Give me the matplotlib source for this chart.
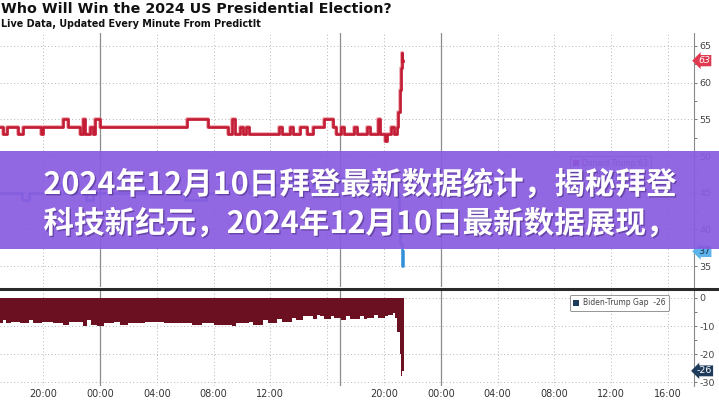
import matplotlib
matplotlib.use('Agg')
import matplotlib.pyplot as plt
from matplotlib.patches import Rectangle, Patch
from matplotlib.lines import Line2D
import matplotlib.patheffects as pe

plt.rcParams['axes.unicode_minus'] = False

# ---------------- data ----------------
title = "Who Will Win the 2024 US Presidential Election?"
subtitle = "Live Data, Updated Every Minute From PredictIt"
banner_lines = ["2024年12月10日拜登最新数据统计，揭秘拜登",
                "科技新纪元，2024年12月10日最新数据展现，"]

# time in hours relative to the first midnight
trump_t = [-7.04, -6.83, -6.55, -5.77, -5.42, -4.15, -4.01, -2.61, -2.25, -1.41, -1.2, -1.06,
           -0.7, -0.5, -0.35, 0.0, 6.13, 7.61, 9.01, 9.3, 9.51, 9.86, 10.07, 10.28, 10.49,
           12.6, 12.8, 13.4, 13.6, 14.1, 14.6, 15.0, 15.8, 16.4, 16.6, 17.0, 17.2, 17.9,
           18.1, 18.8, 19.0, 19.6, 19.7, 20.1, 20.2, 20.5, 20.7, 20.9, 21.0, 21.1, 21.2,
           21.25, 21.3, 21.34]
trump_v = [54, 53, 54, 53, 54, 53, 54, 55, 54, 53, 55, 53,
           54, 53, 55, 54, 55, 54, 53, 55, 53, 54, 53, 54, 53,
           54, 53, 54, 53, 54, 53, 54, 55, 54, 53, 54, 53, 54,
           53, 54, 53, 55, 53, 52, 53, 54, 53, 54, 56, 59, 62,
           64, 63, 63]

biden_t = [-7.04, -5.5, -5.0, -3.0, -2.5, -1.0, -0.5, 6.0, 7.5, 9.0, 10.5, 12.0, 13.5,
           15.0, 16.5, 18.0, 19.5, 20.5, 20.9, 21.05, 21.15, 21.25, 21.34]
biden_v = [45, 44, 45, 46, 45, 44, 45, 44, 45, 46, 45, 46, 47,
           46, 47, 46, 47, 46, 45, 41, 38, 35, 37]

gap_t = [-7.04, -6.8, -6.6, -6.3, -5.6, -5.0, -4.7, -4.1, -3.3, -2.6, -2.2, -1.5, -1.2,
         -0.9, -0.6, -0.2, 0.3, 1.0, 1.4, 2.0, 3.2, 4.5, 6.5, 7.2, 8.0, 9.3, 9.6, 10.5,
         10.8, 11.0, 11.5, 11.8, 12.0, 12.5, 12.8, 13.0, 13.5, 13.8, 14.0, 14.3, 14.5,
         15.0, 15.3, 15.5, 15.8, 16.0, 16.3, 16.5, 17.0, 17.3, 17.6, 17.8, 18.3, 18.6,
         18.8, 19.3, 19.6, 19.8, 20.1, 20.3, 20.6, 20.8, 20.95, 21.1, 21.2, 21.3, 21.4]
gap_v = [-9, -8, -9, -8.5, -9, -8, -9, -8.5, -9, -9.5, -8.5, -8.5, -10,
         -8, -9.5, -10, -9, -8.5, -9.5, -9, -8.5, -9, -9.5, -9, -9.5, -10, -9, -8.5,
         -9.5, -9.5, -8, -9, -9, -7.5, -8.5, -8.5, -7, -8, -8, -6.5, -6.5,
         -7.5, -6, -6.5, -7.5, -7.5, -6.5, -7, -8, -6.5, -7.5, -7.5, -6.5, -7.5,
         -7, -6, -7, -7, -6.5, -6, -5.5, -7, -12, -20, -28, -26, -26]

xtick_hours = [-4, 0, 4, 8, 12, 16, 20, 24, 28, 32, 36, 40]
xtick_labels = ['20:00', '00:00', '04:00', '08:00', '12:00', '', '20:00',
                '00:00', '04:00', '08:00', '12:00', '16:00']
day_breaks = [0, 24, 16.9]
top_yticks = [35, 40, 45, 50, 55, 60, 65]
top_minor = [37.5, 42.5, 47.5, 52.5, 57.5, 62.5]
gap_yticks = [0, -10, -20, -30]
gap_minor = [-5, -15, -25]
trump_last, biden_last, gap_last = 63, 37, -26

# ---------------- figure ----------------
W, H = 719, 400
fig = plt.figure(figsize=(W / 100, H / 100), dpi=100)
fig.patch.set_facecolor('white')

xlim = (-7.04, 41.83)
grid_kw = dict(color='#b5b5b5', lw=0.7, linestyle=(0, (1, 2.5)))

ax1 = fig.add_axes([0, 1 - 287 / H, 694 / W, 254 / H])
ax2 = fig.add_axes([0, 1 - 386 / H, 694 / W, 97 / H])

for ax in (ax1, ax2):
    ax.set_xlim(*xlim)
    for s in ('left', 'top', 'bottom'):
        ax.spines[s].set_visible(False)
    ax.spines['right'].set_color('#8a8a8a')
    ax.spines['right'].set_linewidth(0.8)
    ax.yaxis.tick_right()
    ax.tick_params(axis='y', which='both', direction='out', length=2.5, width=0.7,
                   color='#777', labelsize=6.8, labelcolor='#444', pad=1.2)
    ax.tick_params(axis='y', which='minor', length=2)
    ax.set_xticks(xtick_hours)
    for h in xtick_hours:
        if h not in day_breaks:
            ax.axvline(h, zorder=0, **grid_kw)
    for h in day_breaks:
        ax.axvline(h, color='#8c8c8c', lw=0.9, zorder=0)

# top panel
ax1.set_ylim(32.14, 66.77)
ax1.set_yticks(top_yticks)
ax1.set_yticks(top_minor, minor=True)
for v in top_yticks:
    ax1.axhline(v, zorder=0, **grid_kw)
ax1.tick_params(axis='x', length=0, labelbottom=False)
ax1.step(biden_t, biden_v, where='post', color='#2f8fd8', lw=1.8, zorder=3)
ax1.step(trump_t, trump_v, where='post', color='#c21d35', lw=1.9, zorder=4,
         path_effects=[pe.Stroke(linewidth=2.7, foreground='#e9707e', alpha=0.6), pe.Normal()])

leg1 = ax1.legend(handles=[Patch(fc='#a0307a', ec='none', label=f'Donald Trump {trump_last}'),
                           Patch(fc='#2f8fd8', ec='none', label=f'Joe Biden {biden_last}')],
                  loc='upper left', bbox_to_anchor=(566 / 694, (287 - 152) / 254),
                  fontsize=5.5, handlelength=0.8, handleheight=0.8, handletextpad=0.4,
                  borderpad=0.4, labelspacing=0.3, frameon=True, fancybox=True)
leg1.get_frame().set_edgecolor('#555')
leg1.get_frame().set_linewidth(0.6)
for t in leg1.get_texts():
    t.set_color('#444')

ytr1 = ax1.get_yaxis_transform()
ax1.text(1.006, trump_last, f'{trump_last}', transform=ytr1, ha='left', va='center',
         fontsize=6.8, color='white', style='italic', clip_on=False, zorder=6,
         bbox=dict(boxstyle='larrow,pad=0.12', fc='#e0394f', ec='none'))
ax1.text(1.006, biden_last, f'{biden_last}', transform=ytr1, ha='left', va='center',
         fontsize=6.8, color='#1d3550', clip_on=False, zorder=6,
         bbox=dict(boxstyle='larrow,pad=0.12', fc='#5db3ec', ec='none'))

# bottom panel
ax2.set_ylim(-31.4, 3.2)
ax2.set_yticks(gap_yticks)
ax2.set_yticks(gap_minor, minor=True)
for v in gap_yticks:
    ax2.axhline(v, zorder=0, **grid_kw)
ax2.set_xticklabels(xtick_labels)
ax2.tick_params(axis='x', length=0, labelsize=7, labelcolor='#333', pad=2)
ax2.fill_between(gap_t, gap_v, 0, step='post', color='#6a1020', lw=0, zorder=3)

leg2 = ax2.legend(handles=[Patch(fc='#1f3b5c', ec='none', label=f'Biden-Trump Gap  {gap_last}')],
                  loc='upper left', bbox_to_anchor=(566 / 694, (386 - 291) / 97),
                  fontsize=5.5, handlelength=0.8, handleheight=0.8, handletextpad=0.5,
                  borderpad=0.45, frameon=True, fancybox=True)
leg2.get_frame().set_edgecolor('#666')
leg2.get_frame().set_linewidth(0.6)
for t in leg2.get_texts():
    t.set_color('#444')

ytr2 = ax2.get_yaxis_transform()
ax2.text(1.004, gap_last, f'{gap_last}', transform=ytr2, ha='left', va='center',
         fontsize=6.8, color='white', clip_on=False, zorder=6,
         bbox=dict(boxstyle='larrow,pad=0.1', fc='#1f3b5c', ec='none'))

# separator between panels
fig.add_artist(Line2D([0, 1], [1 - 288.5 / H] * 2, color='#2a2a2a', lw=2.2))

# titles
fig.text(1 / W, 1 - 9 / H, title, fontsize=10.3, weight='bold', color='#111',
         ha='left', va='center', family='DejaVu Sans')
fig.text(1 / W, 1 - 24 / H, subtitle, fontsize=6.9, weight='bold', color='#111',
         ha='left', va='center', family='DejaVu Sans')

# overlay banner
fig.add_artist(Rectangle((0, 1 - 249 / H), 1, 98 / H, transform=fig.transFigure,
                         fc='#8a5be0', ec='none', alpha=0.93, zorder=20))
for txt, yc in zip(banner_lines, (185, 224)):
    fig.text(0.5, 1 - yc / H, txt, fontsize=22, weight='bold', color='white',
             ha='center', va='center', zorder=21,
             family=['Noto Sans CJK SC', 'DejaVu Sans'],
             path_effects=[pe.withSimplePatchShadow(offset=(1, -1), shadow_rgbFace='#3d2370',
                                                    alpha=0.5)])

fig.savefig('out.png', dpi=100)
